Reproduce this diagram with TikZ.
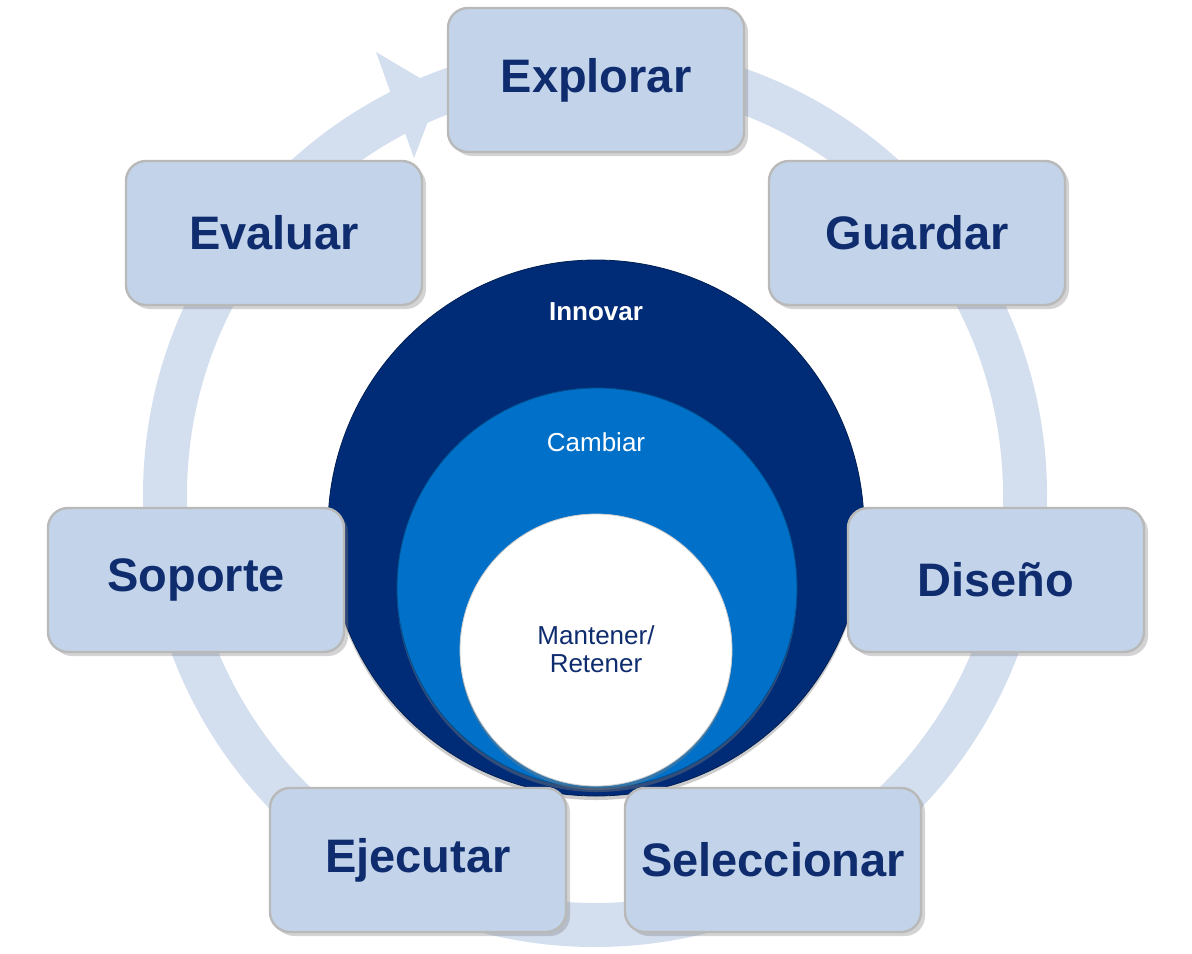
\documentclass[tikz,border=0pt]{standalone}
\usepackage{fontspec}
\setmainfont{Liberation Sans}
\usetikzlibrary{shadows}
\definecolor{ringc}{HTML}{D3DEEF}
\definecolor{boxc}{HTML}{C3D4EA}
\definecolor{boxtxt}{HTML}{0E2C6E}
\definecolor{darkc}{HTML}{002C77}
\definecolor{midc}{HTML}{0070C8}
\begin{document}
\begin{tikzpicture}[x=0.5pt,y=-0.5pt,
  stepbox/.style={draw=gray!55,line width=1.2pt,fill=boxc,rounded corners=10pt,minimum width=148pt,minimum height=72pt,
    font=\fontsize{23.5}{27}\selectfont\bfseries,text=boxtxt,drop shadow={shadow xshift=2pt,shadow yshift=-2pt,opacity=0.35}},
  circ/.style={circle,inner sep=0pt,drop shadow={shadow xshift=0pt,shadow yshift=-2pt,opacity=0.4}}]
\useasboundingbox (0,0) rectangle (1192,953);
% ring
\draw[ringc,line width=22pt] (595,495) circle[radius=430];
\fill[ringc] (376,52) -- (440,90) -- (414,158) -- cycle;
% circles
\node[circ,fill=darkc,draw=darkc!70!black,minimum size=268pt] (innov) at (596,528) {};
\node[circ,fill=midc,draw=midc!70!black,minimum size=200pt] (camb) at (597,588) {};
\node[circ,fill=white,draw=gray!40,minimum size=136pt] (mant) at (596,650) {};
\node[text=white,font=\fontsize{13}{15}\selectfont\bfseries] (innovt) at (596,312) {Innovar};
\node[text=white,font=\fontsize{13}{15}\selectfont] (cambt) at (596,442) {Cambiar};
\node[text=boxtxt,font=\fontsize{13}{14}\selectfont,align=center] (mantt) at (596,649) {Mantener/\\Retener};
% boxes
\node[stepbox] (explorar) at (596,80) {Explorar};
\node[stepbox] (guardar) at (917,233) {Guardar};
\node[stepbox] (diseno) at (996,580) {Diseño};
\node[stepbox] (selec) at (773,860) {Seleccionar};
\node[stepbox] (ejec) at (418,860) {Ejecutar};
\node[stepbox] (soporte) at (196,580) {Soporte};
\node[stepbox] (evaluar) at (274,233) {Evaluar};
\end{tikzpicture}
\end{document}
